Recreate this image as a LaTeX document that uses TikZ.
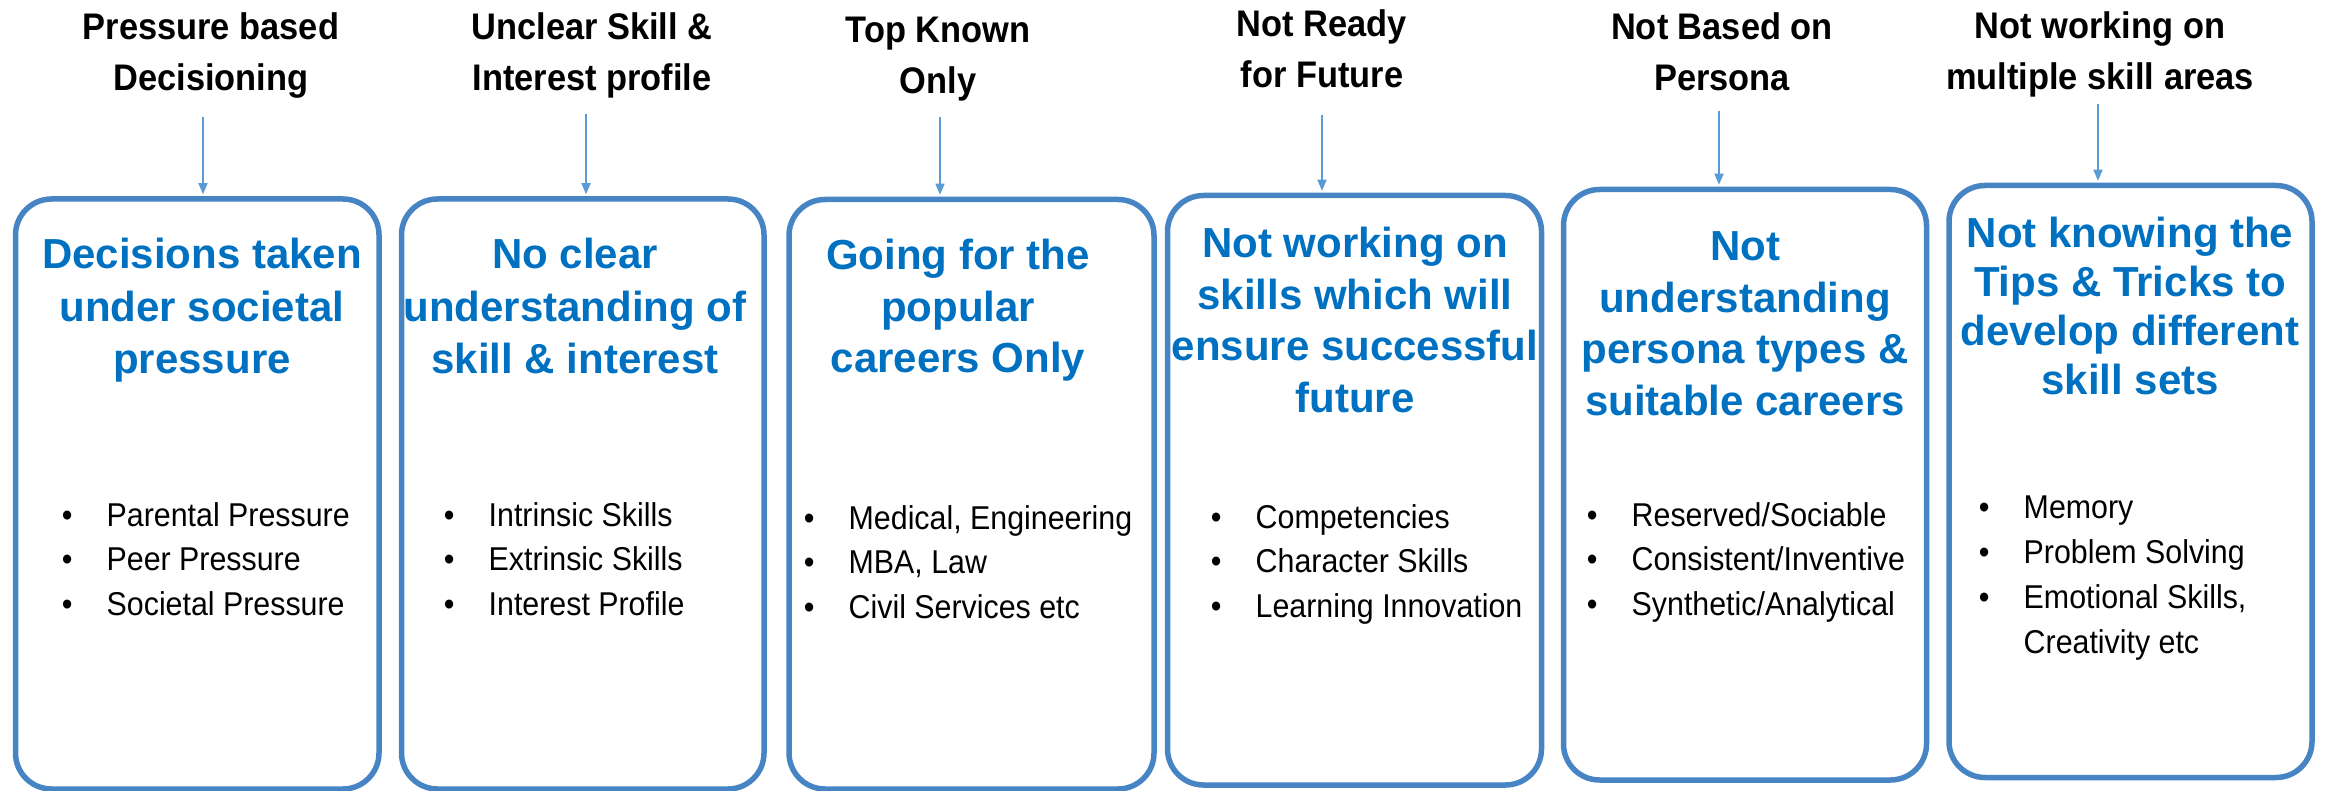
\documentclass[tikz,border=0pt]{standalone}
\usepackage{fontspec}
\setmainfont{Liberation Sans}
\newfontfamily\hdfont{Liberation Sans}[FakeStretch=0.93]
\newfontfamily\blfont{Liberation Sans}[FakeStretch=0.92]
\usetikzlibrary{arrows.meta}
\definecolor{boxblue}{HTML}{4784C4}
\definecolor{titleblue}{HTML}{0070C0}
\definecolor{arrowblue}{HTML}{5B9BD5}
\newcommand\mystack[1]{\begin{tabular}[t]{@{}c@{}}#1\end{tabular}}
\newcommand\mylist[1]{\begin{tabular}[t]{@{}l@{}l@{}}#1\end{tabular}}
\newcommand\bl{\makebox[44.5pt][l]{\makebox[10pt]{\textbullet}}}
\tikzset{
  box/.style={draw=boxblue, line width=5.5pt, rounded corners=36pt, inner sep=0pt},
  hdr/.style={anchor=base, inner sep=0pt, font=\hdfont\bfseries\fontsize{37}{51}\selectfont},
  ttl/.style={anchor=base, inner sep=0pt, text=titleblue, font=\bfseries\fontsize{42}{51.5}\selectfont},
  lst/.style={anchor=base west, inner sep=0pt, font=\blfont\fontsize{33}{44.5}\selectfont},
  arr/.style={draw=arrowblue, line width=1.6pt, -{Triangle[length=11pt,width=9pt]}, shorten >=2pt}
}
\begin{document}
\begin{tikzpicture}[x=1pt, y=-1pt]
\useasboundingbox (0,0) rectangle (2326,791);

% boxes
\node[box, minimum width=363.5pt, minimum height=590pt] (b1) at (197.25,494) {};
\node[box, minimum width=362.5pt, minimum height=590pt] (b2) at (582.75,494) {};
\node[box, minimum width=365pt, minimum height=589.5pt] (b3) at (971.5,494.25) {};
\node[box, minimum width=374pt, minimum height=589.5pt] (b4) at (1354.5,490.25) {};
\node[box, minimum width=363pt, minimum height=590.5pt] (b5) at (1745,484.75) {};
\node[box, minimum width=363pt, minimum height=592pt] (b6) at (2130.5,481.5) {};

% headers
\node[hdr] (h1) at (211,40) {\mystack{Pressure based\\Decisioning}};
\node[hdr] (h2) at (592,40) {\mystack{Unclear Skill \&\\Interest profile}};
\node[hdr] (h3) at (938,43) {\mystack{Top Known\\Only}};
\node[hdr] (h4) at (1322,37) {\mystack{Not Ready\\for Future}};
\node[hdr] (h5) at (1722,40) {\mystack{Not Based on\\Persona}};
\node[hdr] (h6) at (2100,39) {\mystack{Not working on\\multiple skill areas}};

% arrows
\coordinate (s1) at (203,117);
\coordinate (s2) at (586,114);
\coordinate (s3) at (940,117);
\coordinate (s4) at (1322,115);
\coordinate (s5) at (1719,111);
\coordinate (s6) at (2098,104);
\draw[arr] (s1) -- (s1 |- b1.north);
\draw[arr] (s2) -- (s2 |- b2.north);
\draw[arr] (s3) -- (s3 |- b3.north);
\draw[arr] (s4) -- (s4 |- b4.north);
\draw[arr] (s5) -- (s5 |- b5.north);
\draw[arr] (s6) -- (s6 |- b6.north);

% titles
\node[ttl, font=\bfseries\fontsize{42}{52.5}\selectfont] (t1) at (202,269) {\mystack{Decisions taken\\under societal\\pressure}};
\node[ttl, font=\bfseries\fontsize{42}{52.5}\selectfont] (t2) at (575,269) {\mystack{No clear\\understanding of\\skill \& interest}};
\node[ttl] (t3) at (958,270) {\mystack{Going for the\\popular\\careers Only}};
\node[ttl] (t4) at (1355,258) {\mystack{Not working on\\skills which will\\ensure successful\\future}};
\node[ttl] (t5) at (1745,261) {\mystack{Not\\understanding\\persona types \&\\suitable careers}};
\node[ttl, font=\bfseries\fontsize{42}{49}\selectfont] (t6) at (2130,248) {\mystack{Not knowing the\\Tips \& Tricks to\\develop different\\skill sets}};

% bullet lists
\node[lst] (l1) at (62,526) {\mylist{\bl & Parental Pressure\\ \bl & Peer Pressure\\ \bl & Societal Pressure}};
\node[lst] (l2) at (444,526) {\mylist{\bl & Intrinsic Skills\\ \bl & Extrinsic Skills\\ \bl & Interest Profile}};
\node[lst] (l3) at (804,529) {\mylist{\bl & Medical, Engineering\\ \bl & MBA, Law\\ \bl & Civil Services etc}};
\node[lst] (l4) at (1211,528) {\mylist{\bl & Competencies\\ \bl & Character Skills\\ \bl & Learning Innovation}};
\node[lst] (l5) at (1587,526) {\mylist{\bl & Reserved/Sociable\\ \bl & Consistent/Inventive\\ \bl & Synthetic/Analytical}};
\node[lst, font=\blfont\fontsize{33}{45}\selectfont] (l6) at (1979,518) {\mylist{\bl & Memory\\ \bl & Problem Solving\\ \bl & Emotional Skills,\\ & Creativity etc}};
\end{tikzpicture}
\end{document}
